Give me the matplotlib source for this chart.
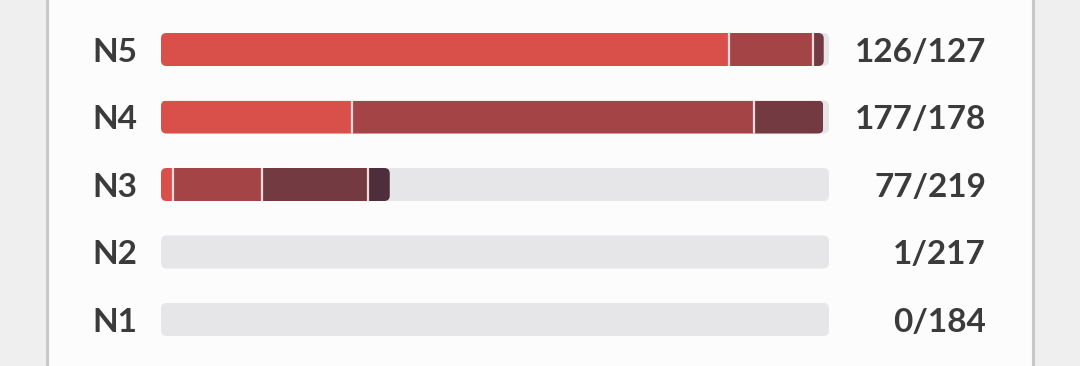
import matplotlib
matplotlib.use("Agg")
import matplotlib.pyplot as plt
from matplotlib.patches import FancyBboxPatch, Rectangle
from matplotlib.lines import Line2D
import matplotlib.transforms as mtransforms

# ---- data ----
levels = ["N5", "N4", "N3", "N2", "N1"]
learned = [126, 177, 77, 1, 0]
totals = [127, 178, 219, 217, 184]
seg1 = [108, 51, 4, 0, 0]
seg2 = [16, 107, 29, 0, 0]
seg3 = [2, 18.5, 35, 0, 0]
seg4 = [0, 0, 7, 0, 0]
seg_colors = ["#d9504b", "#a54446", "#733a41", "#4e2e3a"]
track_color = "#e6e6e8"
text_color = "#3b3b3b"

W, H = 1080, 366
fig = plt.figure(figsize=(W / 100, H / 100), dpi=100)
fig.patch.set_facecolor("#efefef")

# panel
fig.patches.append(Rectangle((46 / W, 0), (1033 - 46) / W, 1, transform=fig.transFigure,
                             facecolor="#fcfcfc", edgecolor="none", zorder=-5))
for xp in (46.5, 1032.5):
    fig.add_artist(Line2D([xp / W, xp / W], [0, 1], transform=fig.transFigure,
                          color="#c8c8c8", linewidth=2.2, zorder=-4))

left_px, right_px = 161, 829
ax = fig.add_axes([left_px / W, 0, (right_px - left_px) / W, 1])
ax.set_zorder(2)
ax.set_xlim(0, 1)
r_top = (0 - 49.5) / 67.5
r_bot = (366 - 49.5) / 67.5
ax.set_ylim(r_bot, r_top)
ax.axis("off")
ax.patch.set_alpha(0)

bar_h = 33 / 67.5
radius_px = 5.5
rx = radius_px / (right_px - left_px)
aspect = (1 / 67.5) / (1 / (right_px - left_px))

def rounded(x0, w, y, **kw):
    return FancyBboxPatch((x0, y - bar_h / 2), w, bar_h,
                          boxstyle=f"round,pad=0,rounding_size={rx}",
                          mutation_aspect=aspect, **kw)

blend = mtransforms.blended_transform_factory(fig.transFigure, ax.transData)

segs = [seg1, seg2, seg3, seg4]
for i, lev in enumerate(levels):
    y = i
    ax.add_patch(rounded(0, 1, y, facecolor=track_color, edgecolor="none", zorder=2))
    vals = [s[i] for s in segs]
    fill = sum(vals) / totals[i]
    if fill > 0:
        clip = rounded(0, fill, y, facecolor="none", edgecolor="none", zorder=2)
        ax.add_patch(clip)
        left = 0.0
        bounds = []
        for v, c in zip(vals, seg_colors):
            if v <= 0:
                continue
            w = v / totals[i]
            b = ax.barh(y, w, left=left, height=bar_h, color=c, edgecolor="none", zorder=3)
            for p in b.patches:
                p.set_clip_path(clip)
            left += w
            bounds.append(left)
        for bx in bounds[:-1]:
            ln, = ax.plot([bx, bx], [y - bar_h / 2, y + bar_h / 2], color="#f2d9d9",
                          linewidth=1.6, zorder=4, solid_capstyle="butt")
            ln.set_clip_path(clip)
    ax.text(137 / W, y, lev, transform=blend, ha="right", va="center_baseline",
            fontsize=24, fontweight="bold", family=["Lato", "DejaVu Sans"], color=text_color,
            clip_on=False)
    ax.text(986 / W, y, f"{learned[i]}/{totals[i]}", transform=blend, ha="right",
            va="center_baseline", fontsize=24, fontweight="bold",
            family=["Lato", "DejaVu Sans"], color=text_color, clip_on=False)

fig.savefig("out.png", dpi=100, facecolor=fig.get_facecolor())
